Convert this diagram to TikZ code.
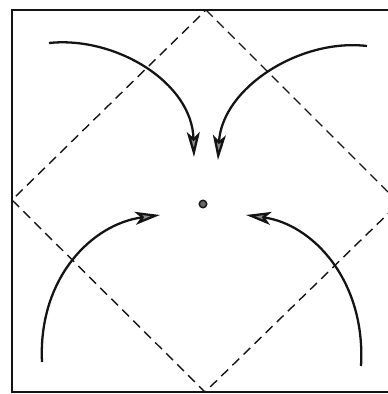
\documentclass[tikz,border=0pt]{standalone}
\usetikzlibrary{arrows.meta}
\definecolor{ink}{RGB}{20,20,20}
\definecolor{headfill}{RGB}{140,140,140}
\tikzset{
  every picture/.style={color=ink, line width=0.6pt},
  frame/.style={draw=ink, line width=0.8pt},
  fold/.style={draw=ink, line width=0.8pt, dash pattern=on 1.9mm off 1.2mm},
  pivot/.style={circle, fill=ink!65, draw=ink, line width=0.8pt, inner sep=0pt, minimum size=1.5mm},
  turn/.style={-{Stealth[length=5mm, width=2.6mm, inset=1.2mm, fill=headfill]}, line width=1.3pt},
}
\begin{document}
\begin{tikzpicture}[x=0.2mm, y=-0.2mm]
  % square sheet, the folding diamond and four turns towards the centre
  \useasboundingbox (0,0) rectangle (388,394);
  \clip (0,0) rectangle (388,394);
  \draw[frame] (390,10) -- (12,10) -- (12,392) -- (390,392);
  \coordinate (N) at (206,10);
  \coordinate (W) at (12,200);
  \coordinate (S) at (205,392);
  \coordinate (E) at (399,203);
  \draw[fold] (N) -- (E) -- (S) -- (W) -- cycle;
  \node[pivot] (mid) at (203,204) {};
  \coordinate (tlA) at (49,43);   \coordinate (tlB) at (194,157);
  \coordinate (trA) at (367,46);  \coordinate (trB) at (218,160);
  \coordinate (blA) at (42,362);  \coordinate (blB) at (160,215);
  \coordinate (brA) at (361,366); \coordinate (brB) at (246,215);
  \draw[turn] (tlA) .. controls (115,36) and (192,82) .. (tlB);
  \draw[turn] (trA) .. controls (300,38) and (222,88) .. (trB);
  \draw[turn] (blA) .. controls (38,278) and (92,224) .. (blB);
  \draw[turn] (brA) .. controls (366,280) and (312,224) .. (brB);
\end{tikzpicture}
\end{document}
